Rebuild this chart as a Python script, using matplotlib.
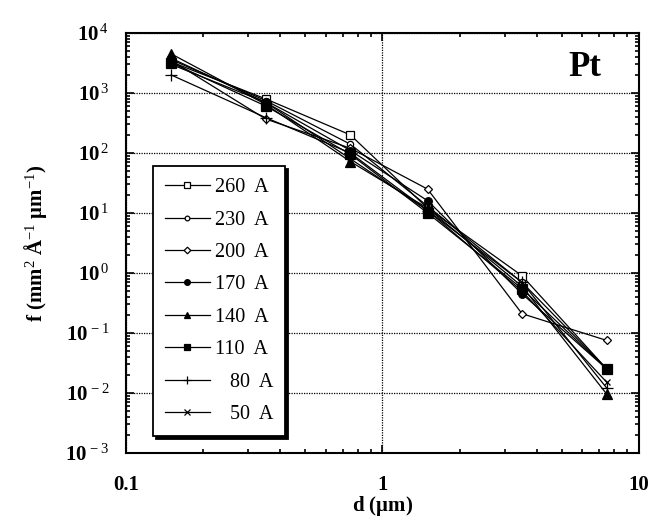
import numpy as np
import matplotlib
matplotlib.use("Agg")
import matplotlib.pyplot as plt
from matplotlib.ticker import FixedLocator, FuncFormatter, LogLocator, NullFormatter

plt.rcParams["font.family"] = ["Liberation Serif", "DejaVu Serif"]
plt.rcParams["mathtext.fontset"] = "custom"
plt.rcParams["mathtext.rm"] = "Liberation Serif"
plt.rcParams["mathtext.bf"] = "Liberation Serif:bold"
plt.rcParams["mathtext.it"] = "Liberation Serif:italic"

########## DATA ########
d_um = [0.15, 0.35, 0.75, 1.5, 3.5, 7.5]

labels = ["260  A", "230  A", "200  A", "170  A", "140  A", "110  A", "   80  A", "   50  A"]
f_260 = [3300, 800, 200, 12, 0.90, 0.025]
f_230 = [3600, 750, 140, 13, 0.70, 0.025]
f_200 = [3500, 370, 120, 25, 0.21, 0.075]
f_170 = [3800, 700, 110, 16, 0.45, 0.025]
f_140 = [4500, 650, 72, 12, 0.60, 0.0095]
f_110 = [3200, 610, 95, 10, 0.55, 0.025]
f_80 = [2000, 390, 100, 11, 0.70, 0.012]
f_50 = [3000, 700, 80, 11, 0.50, 0.015]

series = [f_260, f_230, f_200, f_170, f_140, f_110, f_80, f_50]
###### END DATA ########

styles = [
    dict(marker="s", ms=6, mfc="white"),
    dict(marker="o", ms=4.5, mfc="white"),
    dict(marker="D", ms=4.5, mfc="white"),
    dict(marker="o", ms=5.5, mfc="black"),
    dict(marker="^", ms=6.5, mfc="black"),
    dict(marker="s", ms=6.5, mfc="black"),
    dict(marker="+", ms=8, mfc="black"),
    dict(marker="x", ms=5, mfc="black"),
]

fig = plt.figure(figsize=(6.49, 5.24), dpi=100)
ax = fig.add_axes([0.1941, 0.1355, 0.7904, 0.8015])

for vals, lab, st in zip(series, labels, styles):
    ax.plot(d_um, vals, color="black", lw=0.9, mec="black", mew=0.9, label=lab, **st)

ax.set_xscale("log")
ax.set_yscale("log")
ax.set_xlim(0.1, 10)
ax.set_ylim(1e-3, 1e4)

ax.xaxis.set_major_locator(FixedLocator([0.1, 1, 10]))
ax.xaxis.set_major_formatter(FuncFormatter(lambda v, p: f"{v:g}"))
ax.yaxis.set_major_locator(FixedLocator([10.0 ** k for k in range(-3, 5)]))
ax.yaxis.set_major_formatter(
    FuncFormatter(lambda v, p: r"$\mathbf{10}^{\,%d}$" % int(round(np.log10(v))))
)
ax.xaxis.set_minor_locator(LogLocator(base=10, subs=np.arange(2, 10), numticks=20))
ax.yaxis.set_minor_locator(LogLocator(base=10, subs=np.arange(2, 10), numticks=20))
ax.xaxis.set_minor_formatter(NullFormatter())
ax.yaxis.set_minor_formatter(NullFormatter())

ax.tick_params(which="both", direction="in", top=True, right=True, width=1.2)
ax.tick_params(which="major", length=6, labelsize=15)
ax.tick_params(axis="x", which="major", pad=16)
ax.tick_params(axis="y", which="major", pad=12)
ax.tick_params(which="minor", length=3)
for t in ax.get_xticklabels():
    t.set_fontweight("bold")

ax.grid(which="major", color="black", ls=(0, (1, 1)), lw=0.9)
for s in ax.spines.values():
    s.set_linewidth(1.5)

ax.set_xlabel(r"d ($\mathbf{\mu}$m)", fontsize=15, fontweight="bold", labelpad=-1)
ax.set_ylabel(r"f (mm$^{2}$ Å$^{-1}$ $\mathbf{\mu}$m$^{-1}$)", fontsize=15,
              fontweight="bold", labelpad=12)

ax.text(0.895, 0.918, "Pt", transform=ax.transAxes, fontsize=25,
        fontweight="bold", ha="center", va="center")

leg = ax.legend(loc="upper left", bbox_to_anchor=(0.053, 0.683), borderaxespad=0,
                fontsize=14.5, handlelength=2.2, labelspacing=0.66, fancybox=False,
                shadow=dict(color="black", alpha=1), framealpha=1, markerscale=0.75,
                edgecolor="black", borderpad=0.6, handletextpad=0.25)
leg.get_frame().set_linewidth(1.3)

fig.savefig("out.png", dpi=100)
